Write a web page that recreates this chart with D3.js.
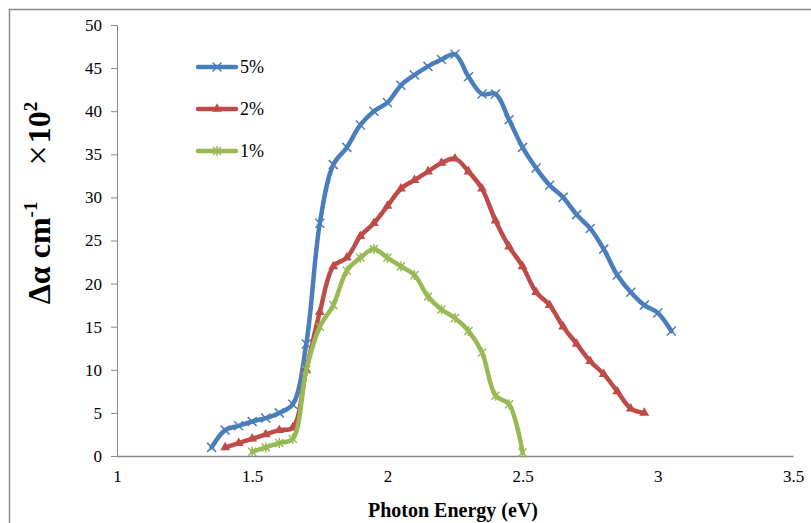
<!DOCTYPE html>
<html>
<head>
<meta charset="utf-8">
<script src="https://cdn.jsdelivr.net/npm/d3@7"></script>
<style>
  body { margin: 0; background: #fff; }
  svg text { font-family: "Liberation Serif", "Times New Roman", "DejaVu Serif", serif !important; fill: #000; }
</style>
</head>
<body>
<div id="chart"></div>
<script>
// photon energy (eV) and Δα values (×10²) for each doping level
const energy5 = [1.35, 1.4, 1.45, 1.5, 1.55, 1.6, 1.65, 1.7, 1.75, 1.8, 1.85, 1.9, 1.95, 2.0, 2.05, 2.1, 2.15, 2.2, 2.25, 2.3, 2.35, 2.4, 2.45, 2.5, 2.55, 2.6, 2.65, 2.7, 2.75, 2.8, 2.85, 2.9, 2.95, 3.0, 3.05];
const alpha5 = [1, 3, 3.5, 4, 4.4, 5, 6, 13, 27, 33.8, 35.8, 38.4, 40, 41, 43, 44.2, 45.2, 46, 46.6, 44, 42, 42, 39, 35.8, 33.4, 31.4, 30, 28, 26.4, 24, 21, 19, 17.5, 16.6, 14.5];

const energy2 = [1.4, 1.45, 1.5, 1.55, 1.6, 1.65, 1.7, 1.75, 1.8, 1.85, 1.9, 1.95, 2.0, 2.05, 2.1, 2.15, 2.2, 2.25, 2.3, 2.35, 2.4, 2.45, 2.5, 2.55, 2.6, 2.65, 2.7, 2.75, 2.8, 2.85, 2.9, 2.95];
const alpha2 = [1, 1.5, 2, 2.5, 3, 3.3, 10, 16.7, 22, 23, 25.5, 27, 29, 31, 32, 33, 34, 34.5, 33, 31, 27.3, 24.3, 22, 19, 17.5, 15, 13, 11, 9.5, 7.5, 5.5, 5];

const energy1 = [1.5, 1.55, 1.6, 1.65, 1.7, 1.75, 1.8, 1.85, 1.9, 1.95, 2.0, 2.05, 2.1, 2.15, 2.2, 2.25, 2.3, 2.35, 2.4, 2.45, 2.5];
const alpha1 = [0.5, 1, 1.5, 2, 10, 15, 17.5, 21.5, 23, 24, 23, 22, 21, 18.5, 17, 16, 14.5, 12, 7, 6, 0.4];

const xTicks = [1, 1.5, 2, 2.5, 3, 3.5];
const yTicks = [0, 5, 10, 15, 20, 25, 30, 35, 40, 45, 50];

const series = [
  { name: "5%", x: energy5, y: alpha5, color: "#4A7EBB", marker: "x" },
  { name: "2%", x: energy2, y: alpha2, color: "#BE4B48", marker: "triangle" },
  { name: "1%", x: energy1, y: alpha1, color: "#98B954", marker: "star" }
];

const serif = "'Liberation Serif', 'Times New Roman', 'DejaVu Serif', serif";

const W = 811, H = 523;
const svg = d3.select("#chart").append("svg")
  .attr("width", W)
  .attr("height", H);

// outer frame of the chart area
svg.append("rect")
  .attr("x", 9.5).attr("y", 9.5)
  .attr("width", 900).attr("height", 600)
  .attr("fill", "none")
  .attr("stroke", "#8a8a8a")
  .attr("stroke-width", 1.5);

const x = d3.scaleLinear().domain([1, 3.5]).range([117, 793]);
const y = d3.scaleLinear().domain([0, 50]).range([456, 25]);

// y axis
const yAxis = svg.append("g")
  .attr("transform", "translate(117,0)")
  .call(d3.axisLeft(y).tickValues(yTicks).tickSize(6).tickSizeOuter(0).tickPadding(9));
yAxis.attr("font-family", null).attr("font-size", null);
yAxis.selectAll("path, line").attr("stroke", "#868686");
yAxis.selectAll("text").style("font-family", serif).style("font-size", "17px");

// x axis (line only, no tick marks)
const xAxis = svg.append("g")
  .attr("transform", "translate(0,456)")
  .call(d3.axisBottom(x).tickValues(xTicks).tickSize(0).tickPadding(14).tickFormat(d3.format("")));
xAxis.attr("font-family", null).attr("font-size", null);
xAxis.select("path").attr("stroke", "#868686").attr("stroke-width", 1.5);
xAxis.selectAll("text").style("font-family", serif).style("font-size", "17px");

const line = d3.line()
  .x(d => x(d[0]))
  .y(d => y(d[1]))
  .curve(d3.curveCatmullRom.alpha(0.5));

function drawMarker(g, type, color) {
  if (type === "x") {
    g.append("path").attr("d", "M-4.5,-4.5L4.5,4.5M-4.5,4.5L4.5,-4.5")
      .attr("stroke", color).attr("stroke-width", 1.5).attr("fill", "none");
  } else if (type === "triangle") {
    g.append("path").attr("d", d3.symbol(d3.symbolTriangle, 42)())
      .attr("fill", color);
  } else {
    g.append("path").attr("d", "M-4,-4L4,4M-4,4L4,-4M0,-5L0,5")
      .attr("stroke", color).attr("stroke-width", 1.5).attr("fill", "none");
  }
}

series.forEach(s => {
  const pts = s.x.map((v, i) => [v, s.y[i]]);
  svg.append("path")
    .datum(pts)
    .attr("d", line)
    .attr("fill", "none")
    .attr("stroke", s.color)
    .attr("stroke-width", 4.5)
    .attr("stroke-linejoin", "round")
    .attr("stroke-linecap", "round");

  svg.selectAll(null)
    .data(pts)
    .enter()
    .append("g")
    .attr("transform", d => `translate(${x(d[0])},${y(d[1])})`)
    .each(function() { drawMarker(d3.select(this), s.marker, s.color); });
});

// legend
const legend = svg.append("g");
series.forEach((s, i) => {
  const ly = 67 + i * 42;
  legend.append("line")
    .attr("x1", 198).attr("x2", 236)
    .attr("y1", ly).attr("y2", ly)
    .attr("stroke", s.color).attr("stroke-width", 4.5)
    .attr("stroke-linecap", "round");
  const m = legend.append("g").attr("transform", `translate(217,${ly})`);
  drawMarker(m, s.marker, s.color);
  legend.append("text")
    .attr("x", 240).attr("y", ly + 6)
    .style("font-family", serif)
    .style("font-size", "18px")
    .text(s.name);
});

// axis titles
svg.append("text")
  .attr("x", 453).attr("y", 517)
  .attr("text-anchor", "middle")
  .style("font-family", serif)
  .style("font-size", "20px")
  .style("font-weight", "bold")
  .text("Photon Energy (eV)");

const yt = svg.append("text")
  .attr("transform", "translate(50,203) rotate(-90)")
  .attr("text-anchor", "middle")
  .style("font-family", serif)
  .style("font-size", "32px")
  .style("font-weight", "bold");
yt.append("tspan").text("Δα cm");
yt.append("tspan").style("font-size", "19px").attr("dy", -13).text("-1");
yt.append("tspan").attr("dy", 13).attr("dx", 36).style("font-weight", "normal").style("font-size", "36px").text("×");
yt.append("tspan").attr("dx", 2).text("10");
yt.append("tspan").style("font-size", "19px").attr("dy", -13).text("2");
</script>
</body>
</html>
